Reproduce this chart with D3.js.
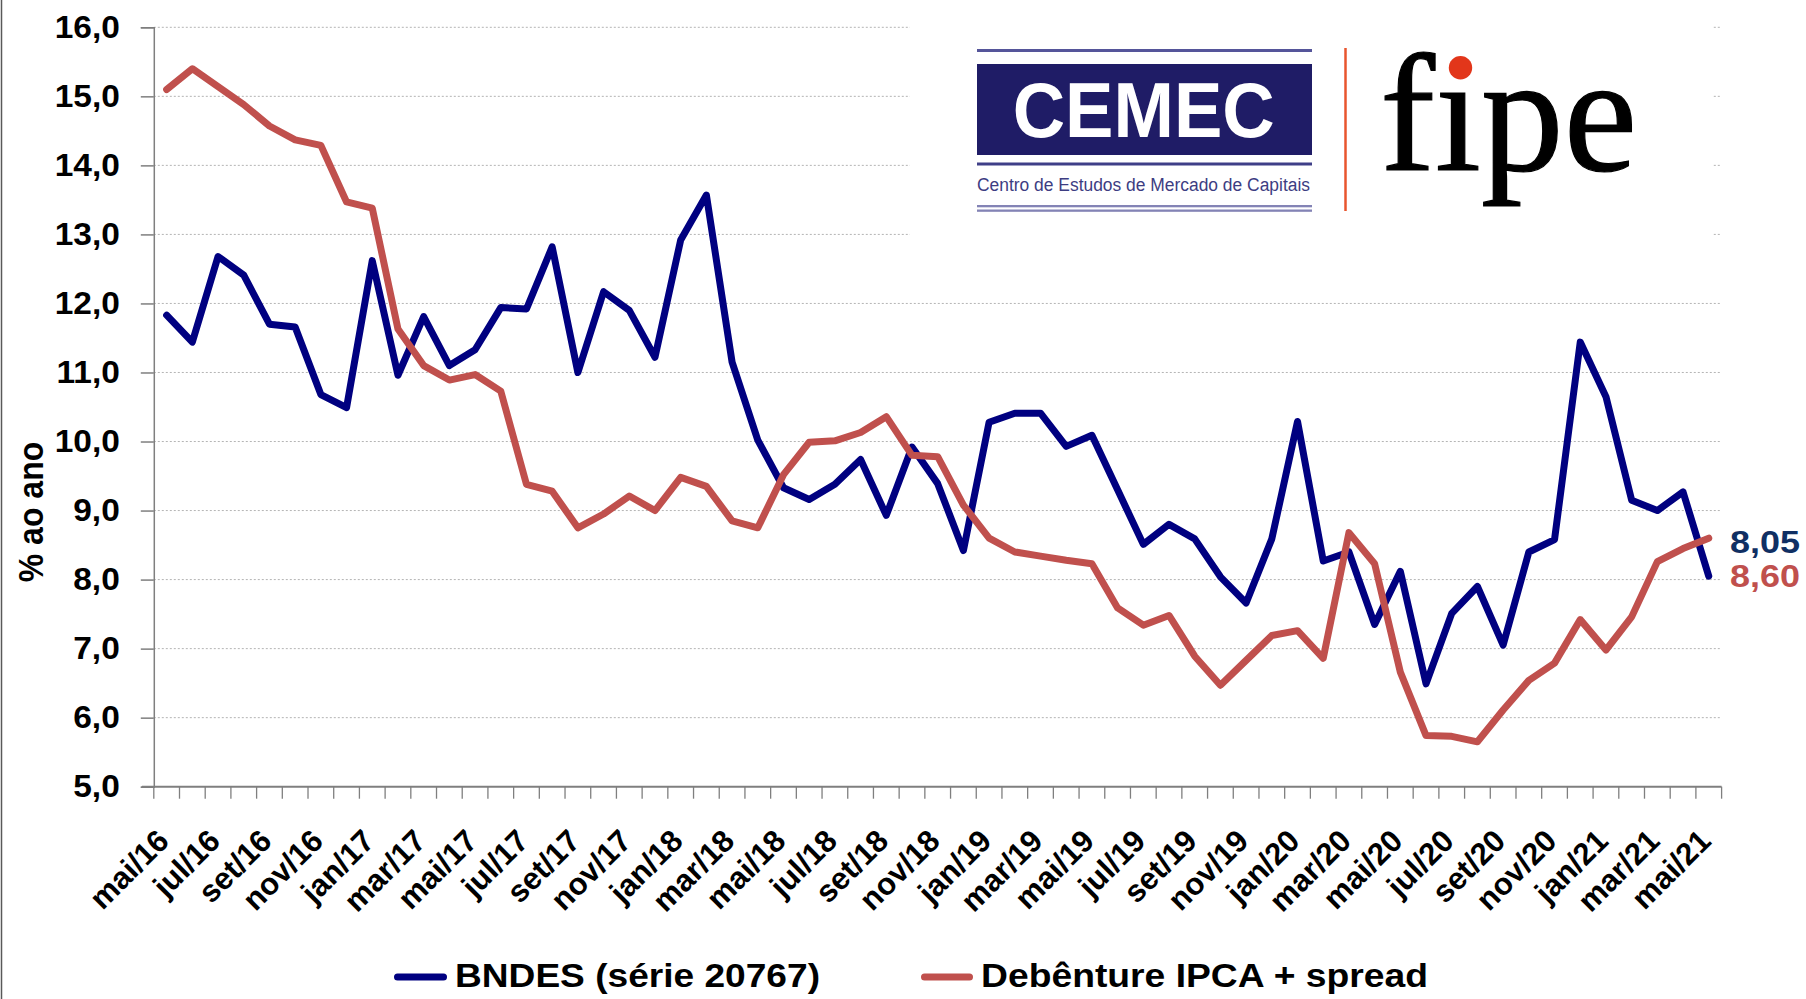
<!DOCTYPE html>
<html>
<head>
<meta charset="utf-8">
<script src="https://cdn.jsdelivr.net/npm/d3@7"></script>
<style>
  html, body { margin: 0; padding: 0; background: #ffffff; }
  svg { display: block; font-family: "Liberation Sans", Arial, sans-serif; }
</style>
</head>
<body>
<svg id="chart" width="1806" height="999"></svg>
<script>
const categories = [
  "mai/16","jun/16","jul/16","ago/16","set/16","out/16","nov/16","dez/16",
  "jan/17","fev/17","mar/17","abr/17","mai/17","jun/17","jul/17","ago/17","set/17","out/17","nov/17","dez/17",
  "jan/18","fev/18","mar/18","abr/18","mai/18","jun/18","jul/18","ago/18","set/18","out/18","nov/18","dez/18",
  "jan/19","fev/19","mar/19","abr/19","mai/19","jun/19","jul/19","ago/19","set/19","out/19","nov/19","dez/19",
  "jan/20","fev/20","mar/20","abr/20","mai/20","jun/20","jul/20","ago/20","set/20","out/20","nov/20","dez/20",
  "jan/21","fev/21","mar/21","abr/21","mai/21"
];
const seriesNames = ["BNDES (série 20767)", "Debênture IPCA + spread"];
const bndes = [
  11.83, 11.44, 12.68, 12.41, 11.70, 11.66, 10.68, 10.49, 12.62, 10.96,
  11.81, 11.10, 11.33, 11.94, 11.92, 12.82, 11.00, 12.17, 11.90, 11.22,
  12.92, 13.57, 11.15, 10.02, 9.33, 9.16, 9.38, 9.74, 8.93, 9.92,
  9.39, 8.42, 10.28, 10.41, 10.41, 9.93, 10.09, 9.30, 8.51, 8.80,
  8.59, 8.04, 7.66, 8.59, 10.29, 8.27, 8.40, 7.35, 8.12, 6.49,
  7.51, 7.90, 7.05, 8.40, 8.58, 11.44, 10.65, 9.15, 9.00, 9.27, 8.05
];
const debenture = [
  15.10, 15.40, 15.14, 14.88, 14.57, 14.37, 14.29, 13.47, 13.38, 11.63,
  11.10, 10.89, 10.97, 10.73, 9.38, 9.28, 8.75, 8.95, 9.21, 9.00,
  9.48, 9.35, 8.85, 8.75, 9.52, 9.99, 10.01, 10.13, 10.36, 9.80,
  9.78, 9.08, 8.60, 8.40, 8.34, 8.28, 8.23, 7.59, 7.34, 7.48,
  6.89, 6.47, 6.83, 7.19, 7.26, 6.86, 8.68, 8.23, 6.66, 5.74,
  5.73, 5.65, 6.11, 6.54, 6.79, 7.42, 6.98, 7.46, 8.26, 8.45, 8.60
];
const lastLabels = ["8,05", "8,60"];
const yTicks = [5, 6, 7, 8, 9, 10, 11, 12, 13, 14, 15, 16];
const yTitle = "% ao ano";

(function () {
const colors = ["#000080", "#C0504D"];
const labelColors = ["#102F63", "#C0504D"];

const svg = d3.select("#chart");
svg.append("rect").attr("width", 1806).attr("height", 999).attr("fill", "#fff");
svg.append("line").attr("x1", 1.5).attr("x2", 1.5).attr("y1", 0).attr("y2", 999)
  .attr("stroke", "#595959").attr("stroke-width", 1.5);

const pLeft = 153.8, pRight = 1721.6, pTop = 27.3, pBottom = 786.7;
const x = d3.scaleBand().domain(categories).range([pLeft, pRight]).padding(0);
const y = d3.scaleLinear().domain([5, 16]).range([pBottom, pTop]);
const cx = c => x(c) + x.bandwidth() / 2;
const fmt = v => d3.format(".1f")(v).replace(".", ",");

function stretch(sel, k) {
  sel.each(function () {
    const L = this.getComputedTextLength();
    d3.select(this).attr("textLength", L * k).attr("lengthAdjust", "spacingAndGlyphs");
  });
}

// gridlines
svg.append("g").selectAll("line").data(yTicks.filter(v => v > 5)).join("line")
  .attr("x1", pLeft).attr("x2", pRight)
  .attr("y1", d => y(d)).attr("y2", d => y(d))
  .attr("stroke", "#b4b4b4").attr("stroke-width", 1).attr("stroke-dasharray", "2,2");

// logo
const logo = svg.append("g");
logo.append("rect").attr("x", 910).attr("y", 12).attr("width", 802).attr("height", 235).attr("fill", "#fff");
logo.append("rect").attr("x", 977).attr("y", 49).attr("width", 335).attr("height", 3).attr("fill", "#55559a");
logo.append("rect").attr("x", 977).attr("y", 64).attr("width", 335).attr("height", 91).attr("fill", "#1f1c66");
logo.append("rect").attr("x", 977).attr("y", 162.5).attr("width", 335).attr("height", 3).attr("fill", "#3f3f88");
logo.append("rect").attr("x", 977).attr("y", 205).attr("width", 335).attr("height", 2.3).attr("fill", "#8383b5");
logo.append("rect").attr("x", 977).attr("y", 209.5).attr("width", 335).attr("height", 2.3).attr("fill", "#8383b5");
logo.append("text").attr("x", 1012.7).attr("y", 137.3).text("CEMEC")
  .attr("fill", "#fff").attr("font-weight", "bold").attr("font-size", 77)
  .attr("textLength", 262).attr("lengthAdjust", "spacingAndGlyphs");
logo.append("text").attr("x", 977).attr("y", 191).text("Centro de Estudos de Mercado de Capitais")
  .attr("fill", "#3d3d82").attr("font-size", 18)
  .attr("textLength", 333).attr("lengthAdjust", "spacingAndGlyphs");
logo.append("line").attr("x1", 1345.5).attr("x2", 1345.5).attr("y1", 48).attr("y2", 211)
  .attr("stroke", "#E8552E").attr("stroke-width", 2.5);
logo.append("text").attr("x", 1380).attr("y", 170).text("fıpe")
  .style("font-family", "'Liberation Serif', 'DejaVu Serif', 'Times New Roman', serif")
  .attr("font-size", 168).attr("fill", "#000")
  .attr("stroke", "#000").attr("stroke-width", 1.2)
  .attr("textLength", 257).attr("lengthAdjust", "spacingAndGlyphs");
logo.append("circle").attr("cx", 1460.5).attr("cy", 67.7).attr("r", 11.7).attr("fill", "#E2361A");

// y axis
const yAxis = svg.append("g").attr("transform", `translate(${pLeft},0)`)
  .call(d3.axisLeft(y).tickValues(yTicks).tickSize(13).tickPadding(21).tickFormat(fmt));
yAxis.attr("font-family", null);
yAxis.select(".domain").attr("stroke", "#7f7f7f").attr("stroke-width", 1.5);
yAxis.selectAll(".tick line").attr("stroke", "#7f7f7f").attr("stroke-width", 1.5);
yAxis.selectAll("text").attr("font-size", 31).attr("font-weight", "bold").attr("fill", "#000");
stretch(yAxis.selectAll("text"), 1.08);

// x axis
const xAxis = svg.append("g").attr("transform", `translate(0,${pBottom})`)
  .call(d3.axisBottom(x).tickValues(categories.filter((d, i) => i % 2 === 0)).tickSize(0).tickPadding(0));
xAxis.attr("font-family", null);
xAxis.select(".domain").remove();
xAxis.append("line").attr("x1", 142).attr("x2", pRight).attr("y1", 0).attr("y2", 0)
  .attr("stroke", "#7f7f7f").attr("stroke-width", 2);
const bounds = categories.map(c => x(c)).concat([x.range()[1]]);
xAxis.append("g").selectAll("line").data(bounds).join("line")
  .attr("x1", d => d).attr("x2", d => d).attr("y1", 0).attr("y2", 12)
  .attr("stroke", "#7f7f7f").attr("stroke-width", 1.3);
xAxis.selectAll(".tick text")
  .attr("font-size", 31).attr("font-weight", "bold").attr("fill", "#000")
  .attr("text-anchor", "end").attr("dy", null).attr("y", 0)
  .attr("transform", "translate(4,56) rotate(-45)");

// y title
svg.append("text").text(yTitle)
  .attr("transform", "translate(43,512) scale(1.12,1) rotate(-90)")
  .attr("text-anchor", "middle").attr("font-size", 32).attr("font-weight", "bold").attr("fill", "#000");

// series
const line = d3.line().x((d, i) => cx(categories[i])).y(d => y(d));
[bndes, debenture].forEach((s, k) => {
  svg.append("path").datum(s).attr("d", line)
    .attr("fill", "none").attr("stroke", colors[k]).attr("stroke-width", 7)
    .attr("stroke-linejoin", "round").attr("stroke-linecap", "round");
});

// end labels
const lblY = [553, 587];
lastLabels.forEach((t, k) => {
  svg.append("text").attr("x", 1730).attr("y", lblY[k]).text(t)
    .attr("font-size", 32).attr("font-weight", "bold").attr("fill", labelColors[k])
    .attr("textLength", 70).attr("lengthAdjust", "spacingAndGlyphs");
});

// legend
const legX = [[397.5, 443.5, 455, 365], [924.5, 969.5, 981, 447]];
seriesNames.forEach((n, k) => {
  const L = legX[k];
  svg.append("line").attr("x1", L[0]).attr("x2", L[1]).attr("y1", 977).attr("y2", 977)
    .attr("stroke", colors[k]).attr("stroke-width", 7).attr("stroke-linecap", "round");
  svg.append("text").attr("x", L[2]).attr("y", 987).text(n)
    .attr("font-size", 33).attr("font-weight", "bold").attr("fill", "#000")
    .attr("textLength", L[3]).attr("lengthAdjust", "spacingAndGlyphs");
});
})();
</script>
</body>
</html>
